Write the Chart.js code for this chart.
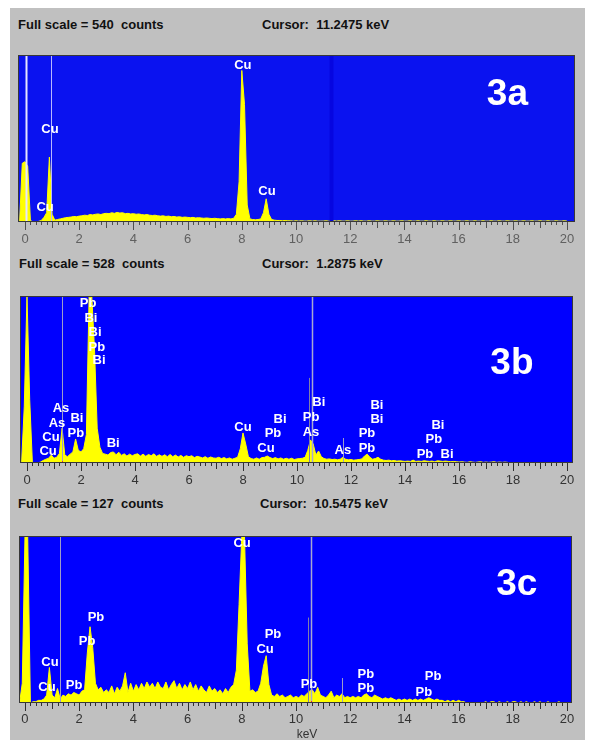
<!DOCTYPE html>
<html>
<head>
<meta charset="utf-8">
<script src="https://cdn.jsdelivr.net/npm/chart.js@4.4.0/dist/chart.umd.min.js"></script>
<style>
  body { margin: 0; background: #fff; }
  #page { position: relative; width: 591px; height: 740px; overflow: hidden; background: #fff; }
  #frame { position: absolute; left: 10px; top: 8px; width: 575px; height: 732px; background: #c0c0c0; }
  canvas { position: absolute; left: 0; }
  .head { position: absolute; font: bold 13px 'Liberation Sans', Arial, sans-serif; color: #111; white-space: pre; line-height: 16px; }
  #kev { position: absolute; left: 277px; top: 726px; width: 60px; text-align: center; font: 12px 'Liberation Sans', Arial, sans-serif; color: #333; line-height: 16px; }
</style>
</head>
<body>
<div id="page">
  <div id="frame"></div>
  <div class="head" style="left:18px; top:17px">Full scale = 540  counts</div>
  <div class="head" style="left:262px; top:17px">Cursor:  11.2475 keV</div>
  <div class="head" style="left:19px; top:256px">Full scale = 528  counts</div>
  <div class="head" style="left:262px; top:256px">Cursor:  1.2875 keV</div>
  <div class="head" style="left:18px; top:496px">Full scale = 127  counts</div>
  <div class="head" style="left:260px; top:496px">Cursor:  10.5475 keV</div>
  <canvas id="chartA" width="591" height="207" style="top:45px"></canvas>
  <canvas id="chartB" width="591" height="207" style="top:286px"></canvas>
  <canvas id="chartC" width="591" height="207" style="top:526px"></canvas>
  <div id="kev">keV</div>
</div>
<script>
// channel grid: -0.2 keV .. 20.0 keV in 0.1 keV steps
const energyStart = -0.2;
const energyStep = 0.1;

// 3a spectrum (counts)
const countsA = [
  0, 190,
  195, 180, 5, 0, 0, 2, 5, 15, 30, 210,
  25, 6, 8, 10, 12, 14, 15, 16, 18, 17,
  19, 20, 22, 21, 24, 23, 25, 26, 24, 27,
  28, 27, 30, 28, 31, 29, 30, 27, 28, 26,
  27, 25, 26, 24, 23, 24, 22, 21, 22, 20,
  19, 20, 18, 19, 17, 18, 16, 17, 15, 16,
  15, 14, 15, 13, 14, 13, 12, 13, 12, 11,
  12, 11, 10, 11, 10, 11, 10, 12, 25, 130,
  490, 380, 55, 10, 8, 7, 8, 10, 30, 75,
  25, 8, 6, 5, 5, 4, 5, 4, 4, 3,
  4, 3, 4, 3, 3, 4, 3, 4, 3, 3,
  3, 4, 3, 3, 4, 3, 4, 3, 3, 4,
  3, 3, 4, 3, 4, 3, 3, 4, 3, 3,
  4, 3, 3, 4, 3, 3, 4, 3, 3, 4,
  3, 3, 4, 3, 3, 4, 3, 3, 4, 3,
  3, 4, 3, 3, 4, 3, 3, 4, 3, 3,
  4, 3, 3, 4, 3, 3, 4, 3, 3, 4,
  3, 3, 4, 3, 3, 4, 3, 3, 4, 3,
  3, 4, 3, 3, 4, 3, 3, 4, 3, 3,
  4, 3, 3, 4, 3, 3, 4, 3, 3, 4,
  3
];

// 3b spectrum (counts)
const countsB = [
  0, 180,
  528, 200, 0, 0, 0, 3, 8, 12, 15, 25,
  15, 18, 30, 110, 25, 20, 28, 35, 76, 40,
  35, 45, 90, 528, 528, 360, 110, 50, 30, 28,
  25, 33, 35, 26, 34, 24, 29, 22, 28, 23,
  27, 29, 22, 28, 21, 27, 23, 29, 21, 26,
  21, 26, 20, 27, 20, 25, 19, 24, 18, 23,
  20, 23, 17, 21, 19, 16, 20, 15, 19, 16,
  15, 18, 14, 17, 13, 16, 12, 15, 18, 45,
  95, 60, 20, 14, 12, 16, 12, 17, 18, 22,
  17, 14, 17, 13, 16, 12, 15, 12, 15, 11,
  13, 14, 15, 18, 40, 73, 60, 25, 38, 20,
  14, 12, 13, 11, 12, 10, 12, 18, 12, 10,
  11, 9, 10, 11, 13, 22, 28, 18, 12, 14,
  18, 12, 9, 8, 9, 7, 8, 6, 7, 6,
  5, 6, 5, 9, 5, 6, 5, 7, 6, 5,
  6, 4, 7, 6, 5, 6, 5, 4, 5, 4,
  3, 4, 3, 2, 4, 3, 2, 3, 4, 2,
  3, 2, 3, 4, 2, 3, 2, 3, 2, 0,
  0, 0, 0, 0, 0, 0, 0, 0, 0, 0,
  0, 0, 0, 0, 0, 0, 0, 0, 0, 0,
  0
];

// 3c spectrum (counts)
const countsC = [
  0, 15,
  127, 127, 0, 1, 1, 2, 2, 3, 6, 27,
  6, 4, 11, 3, 6, 5, 7, 6, 8, 7,
  6, 9, 10, 38, 58, 42, 15, 10, 12, 8,
  10, 8, 13, 7, 12, 9, 13, 23, 8, 15,
  9, 14, 10, 15, 11, 16, 12, 15, 11, 16,
  12, 11, 16, 10, 14, 17, 11, 15, 10, 14,
  11, 16, 10, 14, 9, 13, 10, 8, 13, 9,
  11, 8, 10, 7, 11, 8, 12, 14, 25, 75,
  127, 127, 45, 9, 10, 8, 9, 15, 28, 36,
  14, 6, 5, 7, 5, 6, 4, 5, 6, 4,
  5, 4, 6, 5, 7, 9, 10, 7, 12, 6,
  5, 4, 6, 9, 4, 6, 5, 7, 4, 5,
  4, 5, 4, 5, 4, 6, 7, 5, 4, 6,
  5, 4, 3, 4, 3, 4, 3, 2, 3, 2,
  3, 2, 3, 2, 3, 2, 3, 2, 3, 4,
  3, 2, 3, 2, 2, 1, 2, 1, 2, 1,
  2, 1, 1, 0, 0, 0, 0, 0, 0, 0,
  1, 0, 1, 1, 0, 1, 0, 0, 1, 0,
  1, 1, 0, 1, 0, 1, 0, 0, 1, 0,
  1, 0, 0, 1, 0, 0, 0, 1, 0, 0,
  0
];

const fullScale = [540, 528, 127];
const tickLabels = [0, 2, 4, 6, 8, 10, 12, 14, 16, 18, 20];

// element labels: [text, keV, counts]
const peakLabelsA = [
  ['Cu', 0.92, 300], ['Cu', 0.74, 48], ['Cu', 8.04, 507], ['Cu', 8.93, 100]
];
const peakLabelsB = [
  ['Pb', 2.26, 506], ['Bi', 2.37, 458], ['Bi', 2.52, 414], ['Pb', 2.59, 367], ['Bi', 2.67, 325],
  ['As', 1.26, 171], ['As', 1.11, 126], ['Bi', 1.85, 142], ['Cu', 0.89, 82], ['Pb', 1.81, 95],
  ['Cu', 0.78, 38], ['Bi', 3.19, 63], ['Cu', 8.0, 114], ['Bi', 9.37, 139], ['Pb', 9.11, 95],
  ['Cu', 8.85, 47], ['Bi', 10.81, 190], ['Pb', 10.52, 145], ['As', 10.52, 98], ['Bi', 12.96, 183],
  ['Bi', 12.96, 139], ['Pb', 12.59, 95], ['Pb', 12.59, 47], ['As', 11.7, 41], ['Bi', 15.22, 120],
  ['Pb', 15.07, 73], ['Pb', 14.74, 28], ['Bi', 15.56, 28]
];
const peakLabelsC = [
  ['Cu', 8.01, 121], ['Pb', 2.62, 65], ['Pb', 2.29, 47], ['Cu', 0.92, 31], ['Cu', 0.81, 12],
  ['Pb', 1.81, 13], ['Pb', 9.15, 52], ['Cu', 8.86, 41], ['Pb', 10.48, 14], ['Pb', 12.58, 22],
  ['Pb', 12.58, 11], ['Pb', 15.06, 20], ['Pb', 14.72, 8]
];

// panel names: [text, keV, counts]
const panelNameA = ['3a', 17.8, 410];
const panelNameB = ['3b', 17.96, 313];
const panelNameC = ['3c', 18.15, 90];

// vertical marker lines: keV and top (counts)
const markerKeVA = [0.02, 0.95, 11.3];
const markerTopA = [540, 540, 540];
const markerKeVB = [1.2875, 10.55, 10.45, 11.7, 1.2875];
const markerTopB = [528, 528, 269, 79, 6];
const markerKeVC = [1.28, 10.55, 10.45, 11.7, 10.55];
const markerTopC = [127, 127, 65, 19, 1.5];

const energies = countsA.map((_, i) => +(energyStart + i * energyStep).toFixed(1));
const minorTicks = [];
for (let i = 0; i <= 100; i++) minorTicks.push(Math.round(i * 2) / 10);

function makePanel(id, cfg) {
  const plugin = {
    id: 'spectrum',
    beforeDatasetsDraw(chart) {
      const { ctx, chartArea: a } = chart;
      ctx.save();
      ctx.fillStyle = cfg.blue;
      ctx.fillRect(a.left, a.top, a.width, a.height);
      ctx.restore();
    },
    afterDatasetsDraw(chart) {
      const { ctx, chartArea: a, scales } = chart;
      const x = scales.x, y = scales.y;
      ctx.save();
      // markers
      cfg.markerKeV.forEach((e, i) => {
        const px = Math.round(x.getPixelForValue(e)) + 0.5;
        ctx.strokeStyle = cfg.markerStyle[i][0];
        ctx.lineWidth = cfg.markerStyle[i][1];
        ctx.beginPath();
        ctx.moveTo(px, a.bottom);
        ctx.lineTo(px, Math.max(a.top, y.getPixelForValue(cfg.markerTop[i])));
        ctx.stroke();
      });
      // frame
      ctx.strokeStyle = '#383838';
      ctx.lineWidth = 1;
      ctx.strokeRect(a.left + 0.5, a.top + 0.5, a.width - 1, a.height - 1);
      // tick marks
      ctx.strokeStyle = cfg.tickColor;
      x.ticks.forEach(t => {
        const v = t.value;
        const px = Math.round(x.getPixelForValue(v)) + 0.5;
        let len = 3;
        if (Number.isInteger(v)) len = v % 2 === 0 ? 8 : 6;
        ctx.beginPath();
        ctx.moveTo(px, a.bottom);
        ctx.lineTo(px, a.bottom + len);
        ctx.stroke();
      });
      // element labels
      ctx.fillStyle = '#ffffff';
      ctx.textAlign = 'center';
      ctx.textBaseline = 'middle';
      ctx.font = 'bold 13px "Liberation Sans", Arial, sans-serif';
      cfg.labels.forEach(([txt, e, c]) => {
        ctx.fillText(txt, x.getPixelForValue(e), y.getPixelForValue(c));
      });
      ctx.font = 'bold 37px "Liberation Sans", Arial, sans-serif';
      ctx.fillText(cfg.name[0], x.getPixelForValue(cfg.name[1]), y.getPixelForValue(cfg.name[2]));
      ctx.restore();
    }
  };

  return new Chart(document.getElementById(id), {
    type: 'line',
    data: {
      datasets: [{
        data: energies.map((e, i) => ({ x: e, y: cfg.counts[i] })),
        borderColor: '#ffff00',
        backgroundColor: '#ffff00',
        borderWidth: 1,
        fill: 'origin',
        pointRadius: 0,
        tension: 0
      }]
    },
    options: {
      responsive: false,
      animation: false,
      devicePixelRatio: 1,
      layout: { padding: { left: cfg.left, right: 591 - cfg.right, top: cfg.top, bottom: 0 } },
      plugins: { legend: { display: false }, tooltip: { enabled: false } },
      scales: {
        x: {
          type: 'linear',
          min: cfg.min,
          max: cfg.max,
          grid: { display: false, drawTicks: false },
          border: { display: false },
          afterBuildTicks: s => { s.ticks = minorTicks.map(v => ({ value: v })); },
          afterFit: s => { s.height = 30; },
          ticks: {
            autoSkip: false,
            maxRotation: 0,
            padding: cfg.labelPad,
            color: cfg.labelColor,
            font: { family: '"Liberation Sans", Arial, sans-serif', size: 13 },
            callback: v => tickLabels.includes(v) ? String(v) : ''
          }
        },
        y: { display: false, min: 0, max: cfg.full }
      }
    },
    plugins: [plugin]
  });
}

makePanel('chartA', {
  counts: countsA, full: fullScale[0], labels: peakLabelsA, name: panelNameA,
  markerKeV: markerKeVA, markerTop: markerTopA,
  markerStyle: [['#e6e6ff', 2], ['#b8b8ff', 1], ['#0606e0', 4]],
  left: 18, right: 575, top: 10, min: -0.258, max: 20.295,
  blue: '#0a12f0', tickColor: '#505050', labelColor: '#606060', labelPad: 10
});
makePanel('chartB', {
  counts: countsB, full: fullScale[1], labels: peakLabelsB, name: panelNameB,
  markerKeV: markerKeVB, markerTop: markerTopB,
  markerStyle: [['#9c9cc8', 1], ['#a8a8d0', 1.5], ['#8080a8', 1], ['#9c9cc8', 1], ['#ff2020', 1]],
  left: 20, right: 573, top: 10, min: -0.259, max: 20.222,
  blue: '#0000ff', tickColor: '#303030', labelColor: '#333333', labelPad: 10
});
makePanel('chartC', {
  counts: countsC, full: fullScale[2], labels: peakLabelsC, name: panelNameC,
  markerKeV: markerKeVC, markerTop: markerTopC,
  markerStyle: [['#9c9cc8', 1], ['#a8a8d0', 1.5], ['#8080a8', 1], ['#9c9cc8', 1], ['#ff2020', 1]],
  left: 19, right: 572, top: 10, min: -0.221, max: 20.185,
  blue: '#0000ff', tickColor: '#303030', labelColor: '#333333', labelPad: 9
});
</script>
</body>
</html>
